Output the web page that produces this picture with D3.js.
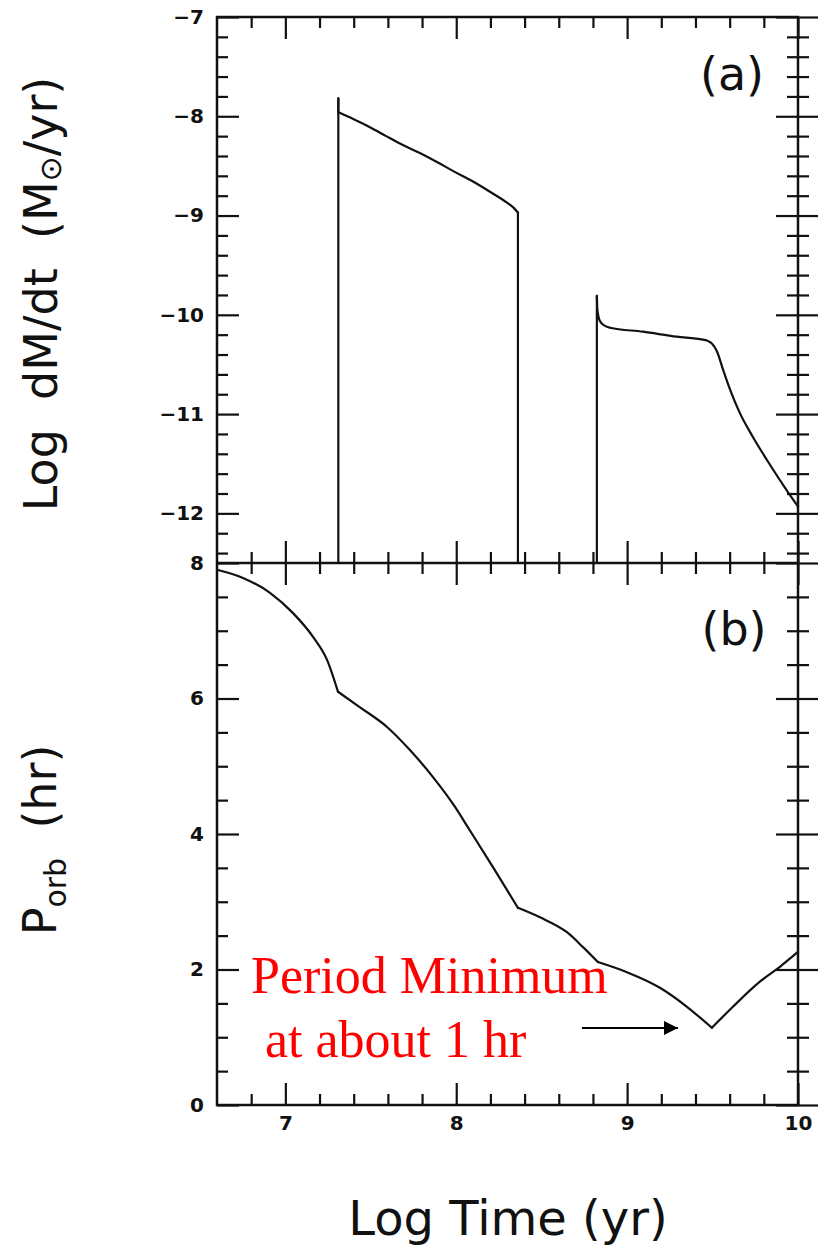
<!DOCTYPE html>
<html>
<head>
<meta charset="utf-8">
<script src="https://cdn.jsdelivr.net/npm/d3@7"></script>
<style>
  body { margin: 0; background: #fff; }
  svg text { font-family: "DejaVu Sans", sans-serif; }
</style>
</head>
<body>
<svg id="chart" width="818" height="1250"></svg>
<script>

// tick labels
var timeTicks = [7, 8, 9, 10];
var mdotTicks = [-7, -8, -9, -10, -11, -12];
var porbTicks = [0, 2, 4, 6, 8];

// panel (a): mass transfer rate, two episodes (log yr, log Msun/yr)
var mdotTime1 = [7.31, 7.31, 7.31, 7.40, 7.495, 7.59, 7.688, 7.787, 7.887, 7.98, 8.08, 8.197, 8.297, 8.335, 8.361, 8.361];
var mdotVal1  = [-12.5, -7.82, -7.96, -8.03, -8.11, -8.20, -8.29, -8.37, -8.46, -8.55, -8.64, -8.76, -8.87, -8.92, -8.97, -12.5];
var mdotTime2 = [8.823, 8.823, 8.826, 8.84, 8.86, 8.90, 9.093, 9.29, 9.444, 9.475, 9.496, 9.526, 9.561, 9.602, 9.66, 9.736, 9.836, 9.935, 10.0];
var mdotVal2  = [-12.5, -9.81, -9.95, -10.06, -10.10, -10.13, -10.17, -10.22, -10.25, -10.265, -10.29, -10.37, -10.55, -10.75, -10.99, -11.23, -11.51, -11.77, -11.93];

// panel (b): orbital period (hr)
var porbTime = [6.6, 6.752, 6.91, 7.045, 7.162, 7.244, 7.308, 7.437, 7.595, 7.729, 7.864, 7.993, 8.063, 8.215, 8.361, 8.49, 8.648, 8.742, 8.829, 8.999, 9.192, 9.35, 9.496, 9.619, 9.777, 9.894, 10.0];
var porbVal  = [7.90, 7.78, 7.56, 7.26, 6.91, 6.57, 6.10, 5.87, 5.58, 5.24, 4.84, 4.40, 4.12, 3.51, 2.91, 2.77, 2.55, 2.33, 2.11, 1.96, 1.73, 1.45, 1.14, 1.45, 1.82, 2.04, 2.26];

// where the curves have sharp corners (indices into the arrays above)
var mdotKinks1 = [0, 1, 2, 14, 15];
var mdotKinks2 = [0, 1, 18];
var porbKinks = [0, 6, 14, 18, 22, 26];

var svg = d3.select("#chart");

var left = 217, right = 798, topA = 17, mid = 563, bottom = 1105;
var ink = "#111";

var x = d3.scaleLinear().domain([6.6, 10]).range([left, right]);
var ya = d3.scaleLinear().domain([-12.5, -7]).range([mid, topA]);
var yb = d3.scaleLinear().domain([0, 8]).range([bottom, mid]);

// minor tick positions
var xMinor = d3.range(34, 50).map(function(i) { return i / 5; }).filter(function(v) { return v % 1 !== 0; });
var yaMinor = d3.range(-62, -35).map(function(i) { return i / 5; }).filter(function(v) { return v % 1 !== 0; });
var ybMinor = d3.range(1, 16).map(function(i) { return i / 2; }).filter(function(v) { return v % 2 !== 0; });

// draw a set of ticks with an axis generator, no labels, no domain
function ticks(axisFn, scale, values, size, tx, ty) {
  var g = svg.append("g")
    .attr("transform", "translate(" + tx + "," + ty + ")")
    .call(axisFn(scale).tickValues(values).tickSize(size).tickFormat(""));
  g.select(".domain").remove();
  g.selectAll(".tick line").attr("stroke", ink).attr("stroke-width", 2.2);
  return g;
}

var big = 22, small = 11;

// top axis (inward)
ticks(d3.axisBottom, x, timeTicks, big, 0, topA);
ticks(d3.axisBottom, x, xMinor, small, 0, topA);
// middle axis (crossing)
ticks(d3.axisBottom, x, timeTicks, big, 0, mid);
ticks(d3.axisTop, x, timeTicks, big, 0, mid);
ticks(d3.axisBottom, x, xMinor, small, 0, mid);
ticks(d3.axisTop, x, xMinor, small, 0, mid);
// bottom axis (inward)
ticks(d3.axisTop, x, timeTicks, big, 0, bottom);
ticks(d3.axisTop, x, xMinor, small, 0, bottom);

// left axes (inward)
ticks(d3.axisRight, ya, mdotTicks, big, left, 0);
ticks(d3.axisRight, ya, yaMinor, small, left, 0);
ticks(d3.axisRight, yb, porbTicks, big, left, 0);
ticks(d3.axisRight, yb, ybMinor, small, left, 0);

// right axes (crossing)
ticks(d3.axisRight, ya, mdotTicks, big, right, 0);
ticks(d3.axisLeft, ya, mdotTicks, big, right, 0);
ticks(d3.axisRight, ya, yaMinor, small, right, 0);
ticks(d3.axisLeft, ya, yaMinor, small, right, 0);
ticks(d3.axisRight, yb, porbTicks, big, right, 0);
ticks(d3.axisLeft, yb, porbTicks, big, right, 0);
ticks(d3.axisRight, yb, ybMinor, small, right, 0);
ticks(d3.axisLeft, yb, ybMinor, small, right, 0);

// frame
svg.append("rect")
  .attr("x", left).attr("y", topA)
  .attr("width", right - left).attr("height", bottom - topA)
  .attr("fill", "none").attr("stroke", ink).attr("stroke-width", 2.5);
svg.append("line")
  .attr("x1", left).attr("x2", right).attr("y1", mid).attr("y2", mid)
  .attr("stroke", ink).attr("stroke-width", 2.5);

// tick labels
function labels(axis, tx, ty) {
  var g = svg.append("g")
    .attr("transform", "translate(" + tx + "," + ty + ")")
    .call(axis);
  g.select(".domain").remove();
  g.selectAll("text")
    .style("font-family", "DejaVu Sans, sans-serif")
    .style("font-size", "20px")
    .style("font-weight", "bold")
    .attr("fill", ink);
  return g;
}
labels(d3.axisLeft(ya).tickValues(mdotTicks).tickSize(0).tickPadding(13).tickFormat(d3.format("d")), left, 0);
labels(d3.axisLeft(yb).tickValues(porbTicks).tickSize(0).tickPadding(13).tickFormat(d3.format("d")), left, 0);
labels(d3.axisBottom(x).tickValues(timeTicks).tickSize(0).tickPadding(11).tickFormat(d3.format("d")), 0, bottom);

// curves: straight pieces where a piece is only two points (vertical jumps),
// smooth pieces elsewhere, corners kept sharp at the kink indices
function drawCurve(xs, ys, yScale, kinks) {
  var pts = d3.zip(xs, ys);
  var smooth = d3.line()
    .x(function(d) { return x(d[0]); })
    .y(function(d) { return yScale(d[1]); })
    .curve(d3.curveMonotoneX);
  var straight = d3.line()
    .x(function(d) { return x(d[0]); })
    .y(function(d) { return yScale(d[1]); });
  d3.pairs(kinks).forEach(function(p) {
    var seg = pts.slice(p[0], p[1] + 1);
    svg.append("path")
      .datum(seg)
      .attr("d", seg.length > 2 ? smooth : straight)
      .attr("fill", "none").attr("stroke", ink).attr("stroke-width", 2.2)
      .attr("stroke-linejoin", "round").attr("stroke-linecap", "round");
  });
}
drawCurve(mdotTime1, mdotVal1, ya, mdotKinks1);
drawCurve(mdotTime2, mdotVal2, ya, mdotKinks2);
drawCurve(porbTime, porbVal, yb, porbKinks);

// panel letters
svg.append("text").attr("x", 732).attr("y", 90)
  .attr("text-anchor", "middle").style("font-size", "46px").attr("fill", ink).text("(a)");
svg.append("text").attr("x", 734).attr("y", 645)
  .attr("text-anchor", "middle").style("font-size", "46px").attr("fill", ink).text("(b)");

// axis titles
var ta = svg.append("text")
  .attr("transform", "translate(57,294) rotate(-90)")
  .attr("text-anchor", "middle")
  .style("font-size", "46px").attr("fill", ink);
ta.append("tspan").text("Log\u00a0\u00a0dM/dt\u00a0\u00a0(M");
ta.append("tspan").style("font-size", "30px").attr("dy", 4).text("⊙");
ta.append("tspan").attr("dy", -4).text("/yr)");

var tb = svg.append("text")
  .attr("transform", "translate(56,840) rotate(-90)")
  .attr("text-anchor", "middle")
  .style("font-size", "46px").attr("fill", ink);
tb.append("tspan").text("P");
tb.append("tspan").style("font-size", "30px").attr("dy", 10).text("orb");
tb.append("tspan").attr("dy", -10).text("\u00a0\u00a0(hr)");

svg.append("text")
  .attr("x", 508).attr("y", 1235)
  .attr("text-anchor", "middle")
  .style("font-size", "48px").attr("fill", ink)
  .text("Log Time (yr)");

// annotation
var note = svg.append("g")
  .style("font-size", "52px")
  .attr("fill", "#ff0000");
note.append("text").attr("x", 251).attr("y", 993)
  .style("font-family", "Liberation Serif, serif").text("Period Minimum");
note.append("text").attr("x", 265).attr("y", 1057)
  .style("font-family", "Liberation Serif, serif").text("at about 1 hr");

svg.append("defs").append("marker")
  .attr("id", "arrow").attr("viewBox", "0 0 10 10")
  .attr("refX", 10).attr("refY", 5)
  .attr("markerWidth", 7).attr("markerHeight", 7)
  .attr("markerUnits", "strokeWidth")
  .attr("orient", "auto")
  .append("path").attr("d", "M0,0 L10,5 L0,10 z").attr("fill", "#000");
svg.append("line")
  .attr("x1", 582).attr("x2", 678).attr("y1", 1028).attr("y2", 1028)
  .attr("stroke", "#000").attr("stroke-width", 2)
  .attr("marker-end", "url(#arrow)");

</script>
</body>
</html>
